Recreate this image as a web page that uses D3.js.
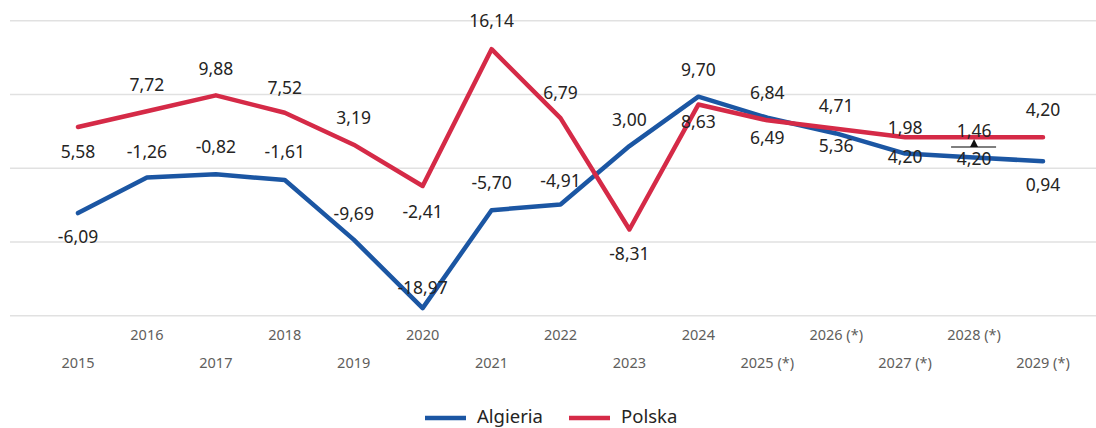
<!DOCTYPE html>
<html>
<head>
<meta charset="utf-8">
<script src="https://cdn.jsdelivr.net/npm/d3@7"></script>
<style>
  body { margin: 0; background: #fff; }
  text { font-family: "Noto Sans", "Open Sans", sans-serif; }
</style>
</head>
<body>
<div id="chart"></div>
<script>
// data
var years = ["2015", "2016", "2017", "2018", "2019", "2020", "2021", "2022",
  "2023", "2024", "2025 (*)", "2026 (*)", "2027 (*)", "2028 (*)", "2029 (*)"];
var algieria = [-6.09, -1.26, -0.82, -1.61, -9.69, -18.97, -5.70, -4.91, 3.00, 9.70, 6.84, 4.71, 1.98, 1.46, 0.94];
var polska = [5.58, 7.72, 9.88, 7.52, 3.19, -2.41, 16.14, 6.79, -8.31, 8.63, 6.49, 5.36, 4.20, 4.20, 4.20];
var yTicks = [-20, -10, 0, 10, 20];

// label offsets from point (px), negative = above
var algLabelDy = [24, -26, -27, -28, -26, -20, -27, -24, -26, -27, -25, -28, -26, -27, 24];
var polLabelDy = [25, -26, -26, -25, -27, 26, -28, -25, 24, 17, 18, 17, 20, 22, -27];

var width = 1096, height = 428;

var svg = d3.select("#chart")
  .append("svg")
  .attr("width", width)
  .attr("height", height);

var x = d3.scalePoint()
  .domain(years)
  .range([78, 1043]);

var y = d3.scaleLinear()
  .domain([-20, 20])
  .range([315.7, 20.7]);

// gridlines
svg.selectAll(".grid")
  .data(yTicks).enter()
  .append("line")
  .attr("x1", 10)
  .attr("x2", width)
  .attr("y1", function(d) { return y(d); })
  .attr("y2", function(d) { return y(d); })
  .style("stroke", "#e1e1e1")
  .style("stroke-width", 1.5);

// x axis labels, staggered in two rows
svg.selectAll(".xlab")
  .data(years).enter()
  .append("text")
  .attr("x", function(d) { return x(d); })
  .attr("y", function(d, i) { return i % 2 == 1 ? 335 : 363; })
  .attr("dy", "0.35em")
  .style("text-anchor", "middle")
  .style("font-size", "14.5px")
  .style("fill", "#605e5c")
  .text(function(d) { return d; });

var series = [
  {name: "Algieria", values: algieria, dy: algLabelDy, color: "#1b56a3"},
  {name: "Polska", values: polska, dy: polLabelDy, color: "#d52a47"}
];

var line = d3.line()
  .x(function(d, i) { return x(years[i]); })
  .y(function(d) { return y(d); });

series.forEach(function(s) {
  svg.append("path")
    .datum(s.values)
    .attr("d", line)
    .style("fill", "none")
    .style("stroke", s.color)
    .style("stroke-width", 4.5)
    .style("stroke-linejoin", "round")
    .style("stroke-linecap", "round");
});

// data labels
var fmt = function(v) { return d3.format(".2f")(v).replace(".", ",").replace("−", "-"); };
series.forEach(function(s) {
  svg.selectAll(".lab-" + s.name)
    .data(s.values).enter()
    .append("text")
    .attr("x", function(d, i) { return x(years[i]); })
    .attr("y", function(d, i) { return y(d) + s.dy[i]; })
    .attr("dy", "0.35em")
    .style("text-anchor", "middle")
    .style("font-size", "17.5px")
    .style("fill", "#252423")
    .text(fmt);
});

// small cursor marker near 2028
var cx = x("2028 (*)");
svg.append("line")
  .attr("x1", cx - 23).attr("x2", cx + 22)
  .attr("y1", 147).attr("y2", 147)
  .style("stroke", "#555")
  .style("stroke-width", 1.5);
svg.append("path")
  .attr("d", "M" + cx + ",139 L" + (cx + 4) + ",147 L" + (cx - 4) + ",147 Z")
  .style("fill", "#111");

// legend
var legend = svg.append("g").attr("transform", "translate(425,417)");
var lx = 0;
series.forEach(function(s) {
  legend.append("line")
    .attr("x1", lx).attr("x2", lx + 41)
    .attr("y1", 1).attr("y2", 1)
    .style("stroke", s.color)
    .style("stroke-width", 4.5);
  legend.append("text")
    .attr("x", lx + 52)
    .attr("y", 0)
    .attr("dy", "0.35em")
    .style("font-size", "18.5px")
    .style("fill", "#252423")
    .text(s.name);
  lx += 144;
});
</script>
</body>
</html>
